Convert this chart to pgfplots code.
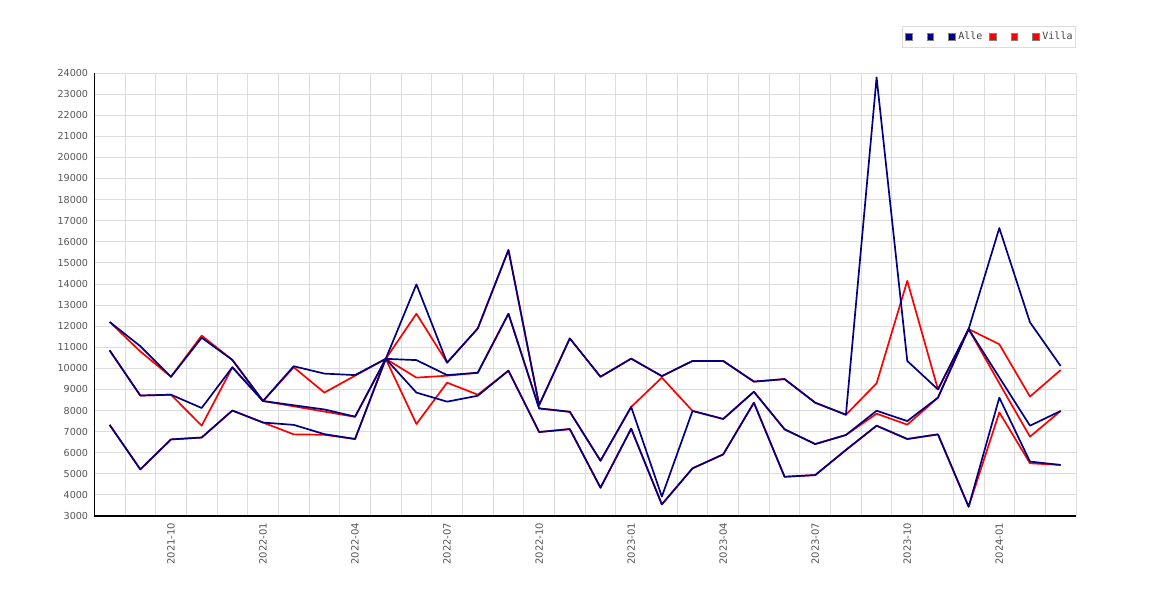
\documentclass[border=0pt]{standalone}
\usepackage{pgfplots}
\usepackage{pgfplotstable}
\pgfplotsset{compat=1.18}
\usepackage{fontspec}
\setmainfont{DejaVu Sans}
\newfontfamily\monofont{DejaVu Sans Mono}
\definecolor{navyb}{RGB}{0,0,128}
\definecolor{redv}{RGB}{255,0,0}
\definecolor{gridc}{RGB}{220,220,220}
\definecolor{labc}{RGB}{85,85,85}

\pgfplotstableread{
x at am al vt vm vl
0 12200 10850 7320 12200 10850 7320
1 11050 8710 5210 10800 8710 5210
2 9600 8750 6630 9600 8750 6630
3 11450 8120 6720 11550 7280 6720
4 10400 10050 8000 10400 10050 8000
5 8450 8450 7430 8450 8450 7430
6 10100 8250 7320 10050 8200 6870
7 9750 8050 6880 8850 7950 6850
8 9680 7710 6650 9650 7700 6650
9 10450 10450 10450 10450 10450 10450
10 13980 10390 8850 12590 9560 7360
11 10270 9680 8420 10270 9650 9320
12 11890 9790 8700 11890 9790 8750
13 15610 12590 9890 15610 12590 9890
14 8260 8100 6980 8260 8100 6980
15 11420 7940 7120 11420 7940 7120
16 9600 5620 4340 9600 5620 4340
17 10460 8170 7140 10460 8170 7140
18 9630 3920 3550 9630 9560 3550
19 10350 7980 5260 10350 7980 5260
20 10350 7600 5920 10350 7600 5920
21 9370 8890 8370 9370 8890 8370
22 9490 7110 4860 9490 7110 4860
23 8370 6410 4940 8370 6410 4940
24 7800 6840 6130 7800 6840 6130
25 23790 7990 7280 9290 7850 7280
26 10350 7500 6650 14150 7330 6650
27 9000 8610 6870 9000 8610 6870
28 11860 11860 3440 11860 11860 3440
29 16650 9570 8610 11140 9290 7910
30 12180 7280 5580 8660 6760 5500
31 10110 7980 5420 9920 7980 5420
}\data

\begin{document}
\begin{tikzpicture}
\useasboundingbox (0,0) rectangle (1170pt,600pt);
\begin{axis}[
  at={(94.3pt,84pt)}, anchor=south west,
  scale only axis, width=981.7pt, height=443pt,
  xmin=-0.5, xmax=31.5, ymin=3000, ymax=24000,
  axis x line*=bottom, axis y line*=left,
  axis line style={black, line width=1.2pt, -},
  ytick={3000,4000,...,24000},
  scaled y ticks=false,
  xtick={2,5,8,11,14,17,20,23,26,29},
  xticklabels={2021-10,2022-01,2022-04,2022-07,2022-10,2023-01,2023-04,2023-07,2023-10,2024-01},
  minor xtick={-0.5,0.5,...,31.5},
  xminorgrids, ymajorgrids, xmajorgrids=false,
  grid style={gridc, line width=0.9pt},
  minor grid style={gridc, line width=0.9pt},
  major tick length=0pt, minor tick length=0pt,
  /pgf/number format/1000 sep={},
  /pgf/number format/assume math mode=true,
  yticklabel style={font=\fontsize{9.6}{10}\selectfont, text=labc, anchor=east, inner sep=0pt, xshift=-6pt},
  xticklabel style={font=\fontsize{10}{11}\selectfont, text=labc, rotate=90, anchor=east, inner ysep=0pt, inner xsep=6.5pt},
  legend columns=6,
  legend style={at={(1,1.1061)}, anchor=north east, draw=gridc, line width=0.9pt,
    font=\monofont\fontsize{10}{11}\selectfont, text={rgb,255:red,68;green,68;blue,68},
    inner xsep=3pt, inner ysep=6pt,
    nodes={inner sep=0pt, text height=7pt, text depth=2pt},
    /tikz/every odd column/.append style={column sep=3pt},
    /tikz/every even column/.append style={column sep=7pt}},
  legend cell align=left,
]
\addplot[redv, line width=1.7pt, line join=round, forget plot] table[x=x, y=vt] {\data};
\addplot[redv, line width=1.7pt, line join=round, forget plot] table[x=x, y=vm] {\data};
\addplot[redv, line width=1.7pt, line join=round, forget plot] table[x=x, y=vl] {\data};
\addplot[navyb, line width=1.7pt, line join=round, forget plot] table[x=x, y=at] {\data};
\addplot[navyb, line width=1.7pt, line join=round, forget plot] table[x=x, y=am] {\data};
\addplot[navyb, line width=1.7pt, line join=round, forget plot] table[x=x, y=al] {\data};
\addlegendimage{legend image code/.code={\draw[draw=gray, line width=0.6pt, fill=navyb] (0pt,-3.25pt) rectangle (6.5pt,3.25pt);}}
\addlegendentry{\hspace*{4.4pt}}
\addlegendimage{legend image code/.code={\draw[draw=gray, line width=0.6pt, fill=navyb] (0pt,-3.25pt) rectangle (6.5pt,3.25pt);}}
\addlegendentry{\hspace*{4.4pt}}
\addlegendimage{legend image code/.code={\draw[draw=gray, line width=0.6pt, fill=navyb] (0pt,-3.25pt) rectangle (6.5pt,3.25pt);}}
\addlegendentry{Alle}
\addlegendimage{legend image code/.code={\draw[draw=gray, line width=0.6pt, fill=redv] (0pt,-3.25pt) rectangle (6.5pt,3.25pt);}}
\addlegendentry{\hspace*{4.4pt}}
\addlegendimage{legend image code/.code={\draw[draw=gray, line width=0.6pt, fill=redv] (0pt,-3.25pt) rectangle (6.5pt,3.25pt);}}
\addlegendentry{\hspace*{4.4pt}}
\addlegendimage{legend image code/.code={\draw[draw=gray, line width=0.6pt, fill=redv] (0pt,-3.25pt) rectangle (6.5pt,3.25pt);}}
\addlegendentry{Villa}
\end{axis}
\end{tikzpicture}
\end{document}
